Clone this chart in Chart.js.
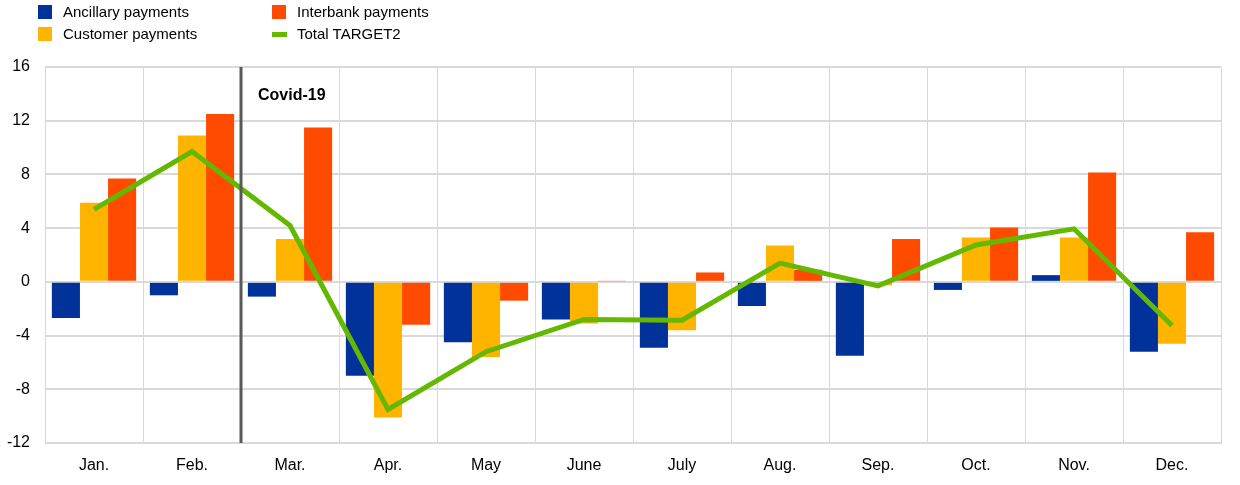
<!DOCTYPE html>
<html>
<head>
<meta charset="utf-8">
<script src="https://cdn.jsdelivr.net/npm/chart.js@4.4.1/dist/chart.umd.min.js"></script>
<style>
  html, body { margin: 0; padding: 0; background: #fff; }
  #wrap { position: relative; width: 1240px; height: 485px; font-family: Arial, "Liberation Sans", sans-serif; }
  #chart { position: absolute; left: 0; top: 0; }
  .legend { position: absolute; font-size: 15px; color: #000; }
  .legend .item { position: absolute; white-space: nowrap; height: 20px; line-height: 20px; }
  .legend .sw { position: absolute; left: 0; top: 3px; width: 14px; height: 14px; }
  .legend .sw.line { top: 8px; height: 5px; width: 15px; }
  .legend .lbl { position: absolute; left: 25px; top: 0; }
</style>
</head>
<body>
<div id="wrap">
  <canvas id="chart" width="1240" height="485"></canvas>
  <div class="legend" id="legend"></div>
</div>
<script>
const months = ['Jan.', 'Feb.', 'Mar.', 'Apr.', 'May', 'June', 'July', 'Aug.', 'Sep.', 'Oct.', 'Nov.', 'Dec.'];
const ancillary = [-2.7, -1.0, -1.1, -7.0, -4.5, -2.8, -4.9, -1.8, -5.5, -0.6, 0.5, -5.2];
const customer = [5.9, 10.9, 3.2, -10.1, -5.6, -3.1, -3.6, 2.7, -0.25, 3.3, 3.3, -4.6];
const interbank = [7.7, 12.5, 11.5, -3.2, -1.4, 0.05, 0.7, 0.9, 3.2, 4.05, 8.15, 3.7];
const total = [5.4, 9.7, 4.2, -9.5, -5.2, -2.8, -2.85, 1.4, -0.3, 2.75, 3.95, -3.25];
const yTicks = [-12, -8, -4, 0, 4, 8, 12, 16];

const colors = {
  ancillary: '#003299',
  customer: '#FFB400',
  interbank: '#FF4B00',
  total: '#65B800'
};

// legend in two columns, like the original
const legendItems = [
  { label: 'Ancillary payments', color: colors.ancillary, x: 38, y: 2 },
  { label: 'Customer payments', color: colors.customer, x: 38, y: 24 },
  { label: 'Interbank payments', color: colors.interbank, x: 272, y: 2 },
  { label: 'Total TARGET2', color: colors.total, x: 272, y: 24, line: true },
];
const legendEl = document.getElementById('legend');
legendItems.forEach(it => {
  const d = document.createElement('div');
  d.className = 'item';
  d.style.left = it.x + 'px';
  d.style.top = it.y + 'px';
  d.innerHTML = '<span class="sw' + (it.line ? ' line' : '') + '" style="background:' + it.color + '"></span>' +
    '<span class="lbl">' + it.label + '</span>';
  legendEl.appendChild(d);
});

// vertical marker between Feb. and Mar.
const covidLine = {
  id: 'covidLine',
  afterDatasetsDraw(chart) {
    const x = chart.scales.x.getPixelForValue(1.5);
    const { top, bottom } = chart.chartArea;
    const ctx = chart.ctx;
    ctx.save();
    ctx.strokeStyle = '#595959';
    ctx.lineWidth = 3;
    ctx.beginPath();
    ctx.moveTo(x, top);
    ctx.lineTo(x, bottom);
    ctx.stroke();
    ctx.fillStyle = '#000';
    ctx.font = 'bold 16px Arial, "Liberation Sans", sans-serif';
    ctx.textBaseline = 'middle';
    ctx.fillText('Covid-19', x + 17, chart.scales.y.getPixelForValue(13.9));
    ctx.restore();
  }
};

new Chart(document.getElementById('chart'), {
  type: 'bar',
  data: {
    labels: months,
    datasets: [
      { type: 'line', label: 'Total TARGET2', data: total, borderColor: colors.total, backgroundColor: colors.total,
        borderWidth: 5, pointRadius: 0, tension: 0, order: 0 },
      { label: 'Ancillary payments', data: ancillary, backgroundColor: colors.ancillary, order: 1 },
      { label: 'Customer payments', data: customer, backgroundColor: colors.customer, order: 1 },
      { label: 'Interbank payments', data: interbank, backgroundColor: colors.interbank, order: 1 },
    ]
  },
  options: {
    responsive: false,
    animation: false,
    layout: { padding: { top: 67, right: 19, left: 0, bottom: 0 } },
    datasets: { bar: { categoryPercentage: 0.86, barPercentage: 1.0 } },
    plugins: { legend: { display: false }, tooltip: { enabled: false } },
    scales: {
      x: {
        grid: { offset: true, color: '#d9d9d9', lineWidth: 1, drawTicks: false },
        border: { color: '#d9d9d9' },
        ticks: { color: '#000', font: { size: 16, family: 'Arial, "Liberation Sans", sans-serif' }, padding: 13 },
        afterFit(scale) { scale.height = 42; }
      },
      y: {
        min: -12, max: 16,
        afterBuildTicks(scale) { scale.ticks = yTicks.map(v => ({ value: v })); },
        grid: { color: '#d9d9d9', lineWidth: 2, drawTicks: false },
        border: { display: false },
        ticks: { color: '#000', font: { size: 16, family: 'Arial, "Liberation Sans", sans-serif' }, padding: 15 },
        afterFit(scale) { scale.width = 45; }
      }
    }
  },
  plugins: [covidLine]
});
</script>
</body>
</html>
